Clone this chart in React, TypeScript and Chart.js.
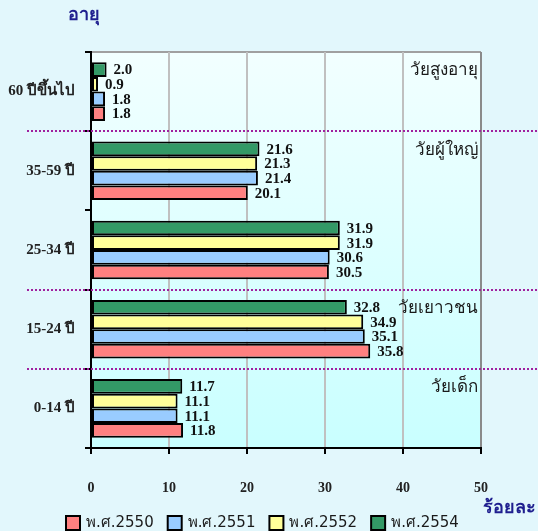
import React, { useEffect, useRef } from 'react';
import { Chart, registerables } from 'chart.js';
Chart.register(...registerables);

const categories = ['60 ปีขึ้นไป', '35-59 ปี', '25-34 ปี', '15-24 ปี', '0-14 ปี'];
const groupLabels = ['วัยสูงอายุ', 'วัยผู้ใหญ่', '', 'วัยเยาวชน', 'วัยเด็ก'];
const dividerAfter = [0, 2, 3];
const seriesNames = ['พ.ศ.2550', 'พ.ศ.2551', 'พ.ศ.2552', 'พ.ศ.2554'];
const values2550 = [1.8, 20.1, 30.5, 35.8, 11.8];
const values2551 = [1.8, 21.4, 30.6, 35.1, 11.1];
const values2552 = [0.9, 21.3, 31.9, 34.9, 11.1];
const values2554 = [2.0, 21.6, 31.9, 32.8, 11.7];
const seriesColors = ['#ff8080', '#99ccff', '#ffff99', '#339966'];
const xMin = 0;
const xMax = 50;
const xStep = 10;
const yTitle = 'อายุ';
const xTitle = 'ร้อยละ';

const SERIF = "'Liberation Serif', 'Times New Roman', serif";
const SANS = "Tahoma, 'DejaVu Sans', 'Noto Sans', sans-serif";
const PAGE_BG = '#e2f7fc';

const overlay = {
  id: 'overlay',
  beforeDraw(chart: any) {
    const { ctx, chartArea: a, width, height } = chart;
    ctx.save();
    ctx.fillStyle = PAGE_BG;
    ctx.fillRect(0, 0, width, height);
    const g = ctx.createLinearGradient(0, a.top, 0, a.bottom);
    g.addColorStop(0, '#f2ffff');
    g.addColorStop(1, '#c9ffff');
    ctx.fillStyle = g;
    ctx.fillRect(a.left, a.top, a.right - a.left, a.bottom - a.top);
    // top border
    ctx.strokeStyle = '#a0a0a0';
    ctx.lineWidth = 2;
    ctx.beginPath();
    ctx.moveTo(a.left, a.top);
    ctx.lineTo(a.right, a.top);
    ctx.stroke();
    ctx.restore();
  },
  afterDraw(chart: any) {
    const { ctx, chartArea: a, width } = chart;
    const yScale = chart.scales.y;
    ctx.save();
    // data labels
    ctx.font = `bold 15px ${SERIF}`;
    ctx.fillStyle = '#111';
    ctx.textAlign = 'left';
    ctx.textBaseline = 'middle';
    chart.data.datasets.forEach((ds: any, di: number) => {
      const meta = chart.getDatasetMeta(di);
      meta.data.forEach((bar: any, i: number) => {
        ctx.fillText(Number(ds.data[i]).toFixed(1), bar.x + 7, bar.y + 1);
      });
    });
    // dotted dividers
    ctx.strokeStyle = '#a0209f';
    ctx.lineWidth = 2;
    ctx.setLineDash([2, 2]);
    dividerAfter.forEach((i) => {
      const y = Math.round((yScale.getPixelForValue(i) + yScale.getPixelForValue(i + 1)) / 2);
      ctx.beginPath();
      ctx.moveTo(27, y);
      ctx.lineTo(width, y);
      ctx.stroke();
    });
    ctx.setLineDash([]);
    // group labels
    ctx.font = `17px ${SANS}`;
    ctx.fillStyle = '#1a1a1a';
    ctx.textAlign = 'right';
    ctx.textBaseline = 'middle';
    const half = (yScale.getPixelForValue(1) - yScale.getPixelForValue(0)) / 2;
    groupLabels.forEach((lbl, i) => {
      if (!lbl) return;
      const top = yScale.getPixelForValue(i) - half;
      ctx.fillText(lbl, a.right - 3, top + 19);
    });
    // axis titles
    ctx.font = `bold 18px ${SANS}`;
    ctx.fillStyle = '#1f1f8f';
    ctx.textAlign = 'left';
    ctx.fillText(yTitle, 68, 15);
    ctx.fillText(xTitle, 483, 508);
    // legend
    ctx.font = `15px ${SANS}`;
    ctx.textBaseline = 'middle';
    let x = 66;
    const ly = 523;
    seriesNames.forEach((name, i) => {
      ctx.fillStyle = seriesColors[i];
      ctx.fillRect(x, ly - 7, 14, 14);
      ctx.strokeStyle = '#000';
      ctx.lineWidth = 2;
      ctx.strokeRect(x, ly - 7, 14, 14);
      ctx.fillStyle = '#1a1a1a';
      ctx.fillText(name, x + 20, ly);
      x += 20 + ctx.measureText(name).width + 14;
    });
    ctx.restore();
  },
};

export default function App() {
  const ref = useRef<HTMLCanvasElement>(null);
  useEffect(() => {
    document.body.style.margin = '0';
    const seriesValues = [values2550, values2551, values2552, values2554];
    const order = [3, 2, 1, 0];
    const chart = new Chart(ref.current as HTMLCanvasElement, {
      type: 'bar',
      data: {
        labels: categories,
        datasets: order.map((k) => ({
          label: seriesNames[k],
          data: seriesValues[k],
          backgroundColor: seriesColors[k],
          borderColor: '#000',
          borderWidth: 2,
          borderSkipped: false,
          categoryPercentage: 0.74,
          barPercentage: 1.0,
        })),
      },
      options: {
        indexAxis: 'y',
        animation: false,
        responsive: false,
        devicePixelRatio: 1,
        layout: { padding: { top: 52, right: 57, left: 0, bottom: 0 } },
        plugins: { legend: { display: false }, tooltip: { enabled: false } },
        scales: {
          x: {
            min: xMin,
            max: xMax,
            ticks: {
              stepSize: xStep,
              padding: 26,
              color: '#222',
              font: { family: SERIF, size: 14, weight: 'bold' },
            },
            grid: {
              color: (c: any) => (c.tick && c.tick.value === xMax ? '#8a8a8a' : '#c0c0c0'),
              lineWidth: 2,
              tickColor: '#000',
              tickLength: 6,
            },
            border: { display: true, color: '#000', width: 2 },
            afterFit: (s: any) => { s.height = 83; },
          },
          y: {
            ticks: {
              padding: 10,
              color: '#222',
              font: { family: SERIF, size: 15, weight: 'bold' },
            },
            grid: {
              offset: true,
              drawOnChartArea: false,
              tickColor: '#000',
              tickLength: 6,
              lineWidth: 2,
            },
            border: { display: true, color: '#000', width: 2 },
            afterFit: (s: any) => { s.width = 91; },
          },
        },
      },
      plugins: [overlay],
    });
    return () => chart.destroy();
  }, []);
  return (
    <div style={{ width: 538, height: 531, background: PAGE_BG }}>
      <canvas ref={ref} width={538} height={531} />
    </div>
  );
}
